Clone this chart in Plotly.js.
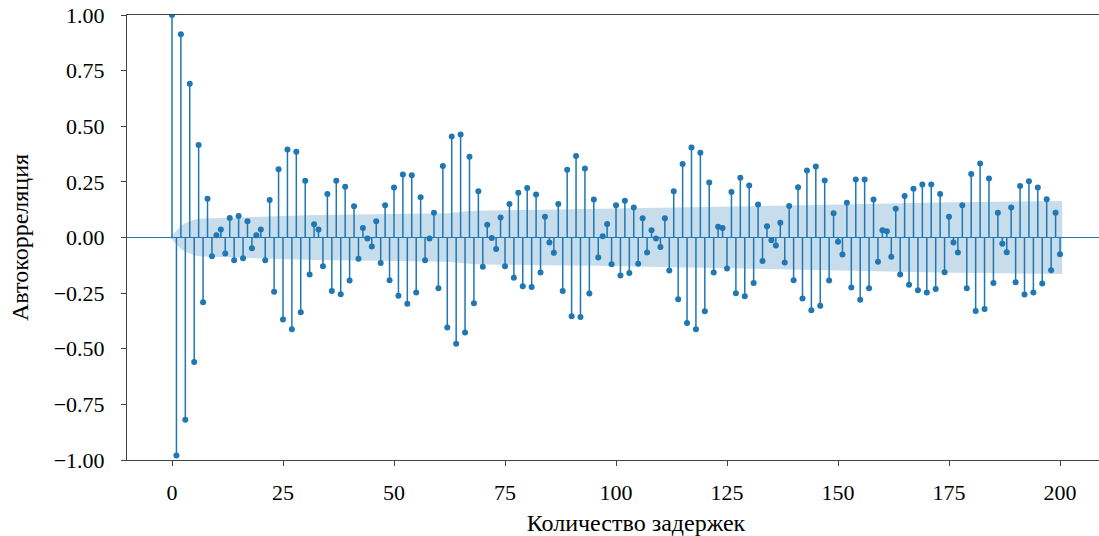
<!DOCTYPE html>
<html>
<head>
<meta charset="utf-8">
<script src="https://cdn.plot.ly/plotly-3.0.1.min.js"></script>
<style>
html, body { margin: 0; padding: 0; overflow: hidden; background: #fff; }
#chart { width: 1146px; height: 536px; }
</style>
</head>
<body>
<div id="chart"></div>
<script>
// Autocorrelation values, lags 0..200
const acfValues = [
  1.000, -0.980, 0.914, -0.819, 0.691, -0.560, 0.416, -0.291, 0.174, -0.084,
  0.010, 0.036, -0.072, 0.088, -0.102, 0.097, -0.093, 0.073, -0.048, 0.010,
  0.036, -0.102, 0.169, -0.244, 0.307, -0.369, 0.396, -0.412, 0.385, -0.336,
  0.255, -0.166, 0.060, 0.036, -0.129, 0.195, -0.241, 0.255, -0.255, 0.228,
  -0.193, 0.141, -0.096, 0.043, -0.004, -0.040, 0.073, -0.115, 0.145, -0.192,
  0.225, -0.262, 0.283, -0.298, 0.280, -0.247, 0.181, -0.102, -0.004, 0.111,
  -0.228, 0.321, -0.404, 0.454, -0.478, 0.463, -0.427, 0.363, -0.295, 0.208,
  -0.132, 0.057, -0.002, -0.052, 0.090, -0.129, 0.151, -0.181, 0.201, -0.219,
  0.222, -0.222, 0.193, -0.157, 0.093, -0.022, -0.069, 0.151, -0.240, 0.304,
  -0.354, 0.366, -0.357, 0.310, -0.252, 0.171, -0.090, 0.006, 0.061, -0.120,
  0.145, -0.171, 0.165, -0.159, 0.135, -0.118, 0.087, -0.067, 0.033, -0.004,
  -0.043, 0.087, -0.148, 0.208, -0.277, 0.330, -0.384, 0.404, -0.412, 0.381,
  -0.331, 0.247, -0.157, 0.048, 0.043, -0.139, 0.204, -0.250, 0.268, -0.264,
  0.234, -0.204, 0.148, -0.106, 0.051, -0.012, -0.036, 0.066, -0.112, 0.142,
  -0.192, 0.226, -0.274, 0.301, -0.327, 0.319, -0.307, 0.256, -0.193, 0.109,
  -0.019, -0.076, 0.156, -0.225, 0.261, -0.280, 0.261, -0.228, 0.171, -0.109,
  0.033, 0.028, -0.087, 0.129, -0.166, 0.187, -0.212, 0.219, -0.237, 0.238,
  -0.247, 0.238, -0.231, 0.196, -0.156, 0.093, -0.022, -0.067, 0.145, -0.228,
  0.285, -0.330, 0.333, -0.321, 0.265, -0.204, 0.111, -0.028, -0.066, 0.135,
  -0.201, 0.232, -0.256, 0.253, -0.247, 0.225, -0.207, 0.172, -0.147, 0.111,
  -0.075
];
const lags = acfValues.map((_, i) => i);

// Confidence band half-width
const bandLags = [-0.5, 1, 2, 3, 4, 5, 6, 8, 12, 22, 30, 49, 62, 68, 74, 99, 110, 122, 148, 172, 200.5];
const bandHalf = [0, 0.031, 0.052, 0.065, 0.074, 0.080, 0.084, 0.087, 0.088, 0.096, 0.100, 0.106, 0.109, 0.120, 0.122, 0.128, 0.132, 0.137, 0.147, 0.157, 0.164];

// Axis ticks
const xTickVals = [0, 25, 50, 75, 100, 125, 150, 175, 200];
const yTickVals = [-1, -0.75, -0.5, -0.25, 0, 0.25, 0.5, 0.75, 1];
const yTickText = ['\u22121.00', '\u22120.75', '\u22120.50', '\u22120.25', '0.00', '0.25', '0.50', '0.75', '1.00'];

const C0 = '#1f77b4';

const bandX = bandLags.concat(bandLags.slice().reverse());
const bandY = bandHalf.concat(bandHalf.slice().reverse().map(v => -v));

const stemX = [], stemY = [];
lags.forEach((l, i) => { stemX.push(l, l, null); stemY.push(0, acfValues[i], null); });

const traces = [
  { type: 'scatter', mode: 'lines', x: bandX, y: bandY, fill: 'toself',
    fillcolor: 'rgba(31,119,180,0.25)', line: { width: 0 }, hoverinfo: 'skip', showlegend: false },
  { type: 'scatter', mode: 'lines', x: stemX, y: stemY, line: { color: C0, width: 1.5 },
    hoverinfo: 'skip', showlegend: false },
  { type: 'scatter', mode: 'markers', x: lags, y: acfValues,
    marker: { color: C0, size: 6 }, showlegend: false }
];

const family = 'Liberation Serif, Times New Roman, DejaVu Serif, serif';
const font = { family: family, size: 22, color: '#000' };
const titleFont = { family: family, size: 24, color: '#000' };
const axisColor = '#444';

const layout = {
  width: 1146, height: 536,
  margin: { l: 127, r: 1, t: 15, b: 76 },
  paper_bgcolor: '#fff', plot_bgcolor: '#fff',
  font: font,
  showlegend: false,
  xaxis: {
    range: [-10.135, 219.14],
    tickvals: xTickVals, ticktext: xTickVals.map(String),
    showgrid: false, zeroline: false,
    showline: true, mirror: true, linecolor: axisColor, linewidth: 1,
    ticks: 'outside', ticklen: 5, tickwidth: 1, tickcolor: axisColor,
    ticklabelstandoff: 8,
    tickfont: font,
    title: { text: 'Количество задержек', font: titleFont, standoff: 13 }
  },
  yaxis: {
    range: [-1, 1],
    tickvals: yTickVals, ticktext: yTickText,
    showgrid: false,
    zeroline: true, zerolinecolor: C0, zerolinewidth: 1.5,
    showline: true, mirror: true, linecolor: axisColor, linewidth: 1,
    ticks: 'outside', ticklen: 5, tickwidth: 1, tickcolor: axisColor,
    ticklabelstandoff: 12,
    tickfont: font,
    title: { text: 'Автокорреляция', font: titleFont, standoff: 18 }
  }
};

Plotly.newPlot('chart', traces, layout, { staticPlot: true, displayModeBar: false });
</script>
</body>
</html>
